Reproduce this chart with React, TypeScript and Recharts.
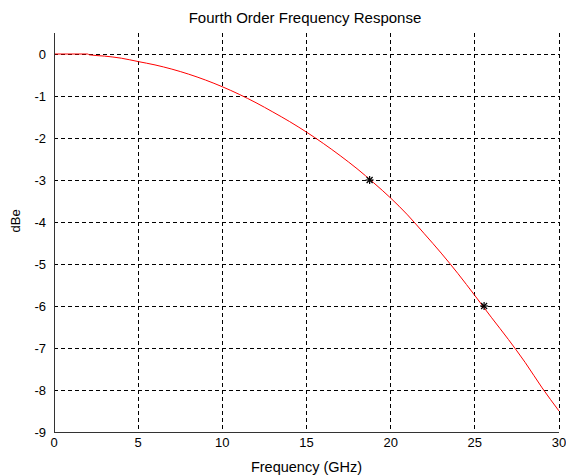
import React from 'react';
import { ComposedChart, Line, Scatter, XAxis, YAxis, CartesianGrid } from 'recharts';

const freq = [0, 2, 2.1, 3, 4, 5, 6, 7, 8, 9, 10, 11, 12, 13, 14, 15, 16, 17, 18, 19, 20, 21, 22, 23, 24, 25, 26, 27, 28, 29, 30];
const dbe = [0, 0, -0.02, -0.05, -0.1, -0.18, -0.26, -0.36, -0.48, -0.62, -0.78, -0.96, -1.16, -1.38, -1.61, -1.86, -2.13, -2.42, -2.73, -3.07, -3.43, -3.83, -4.28, -4.74, -5.23, -5.75, -6.28, -6.8, -7.35, -7.95, -8.5];
const markerFreq = [18.75, 25.55];
const markerDbe = [-3, -6];
const xTicks = [0, 5, 10, 15, 20, 25, 30];
const yTicks = [0, -1, -2, -3, -4, -5, -6, -7, -8, -9];

const lineData = freq.map((f, i) => ({ f, v: dbe[i] }));
const markerData = markerFreq.map((f, i) => ({ f, v: markerDbe[i] }));

const Asterisk = (props: any) => {
  const { cx, cy } = props;
  const r = 4;
  const d = 3;
  return (
    <g stroke="#000" strokeWidth={1.2}>
      <line x1={cx - r} y1={cy} x2={cx + r} y2={cy} />
      <line x1={cx} y1={cy - r} x2={cx} y2={cy + r} />
      <line x1={cx - d} y1={cy - d} x2={cx + d} y2={cy + d} />
      <line x1={cx - d} y1={cy + d} x2={cx + d} y2={cy - d} />
    </g>
  );
};

const ff = 'Liberation Sans, Arial, sans-serif';
const tickFont = { fontFamily: ff, fontSize: 13, fill: '#000' };
const labelFont = { fontFamily: ff, fontSize: 14.5, fill: '#000' };

export default function App() {
  return (
    <div style={{ position: 'absolute', left: 0, top: 0, width: 566, height: 476, background: '#fff' }}>
      <style>{`.recharts-cartesian-grid line, .recharts-cartesian-axis-line { shape-rendering: crispEdges; }`}</style>
      <ComposedChart width={566} height={476} margin={{ top: 33, right: 7, left: 0, bottom: 0 }}>
        <CartesianGrid stroke="#000" strokeDasharray="4 3" horizontalValues={yTicks} verticalValues={xTicks} xAxisId="b" yAxisId="l" />
        <XAxis xAxisId="b" dataKey="f" type="number" domain={[0, 30]} ticks={xTicks} height={44}
          axisLine={{ stroke: '#333' }} tickLine={false} tick={tickFont} tickMargin={0}
          label={{ value: 'Frequency (GHz)', position: 'insideBottom', offset: 4, style: labelFont }} allowDataOverflow />
        <XAxis xAxisId="t" orientation="top" type="number" domain={[0, 30]} ticks={xTicks} height={0}
          axisLine={{ stroke: '#333' }} tick={false} tickLine={false} />
        <YAxis yAxisId="l" dataKey="v" type="number" domain={[-9, 0.5]} ticks={yTicks} width={54}
          axisLine={{ stroke: '#333' }} tickLine={false} tick={tickFont} tickMargin={2}
          label={{ value: 'dBe', angle: -90, position: 'insideLeft', offset: 15, style: { ...labelFont, fontSize: 13 } }} allowDataOverflow />
        <YAxis yAxisId="r" orientation="right" type="number" domain={[-9, 0.5]} ticks={yTicks} width={0}
          axisLine={{ stroke: '#333' }} tick={false} tickLine={false} />
        <Line xAxisId="b" yAxisId="l" data={lineData} dataKey="v" type="monotone" stroke="#ff0000" strokeWidth={1} dot={false} isAnimationActive={false} />
        <Scatter xAxisId="b" yAxisId="l" data={markerData} dataKey="v" shape={<Asterisk />} isAnimationActive={false} />
        <text x={305} y={23} textAnchor="middle" style={{ ...labelFont, fontSize: 15 }}>Fourth Order Frequency Response</text>
      </ComposedChart>
    </div>
  );
}
